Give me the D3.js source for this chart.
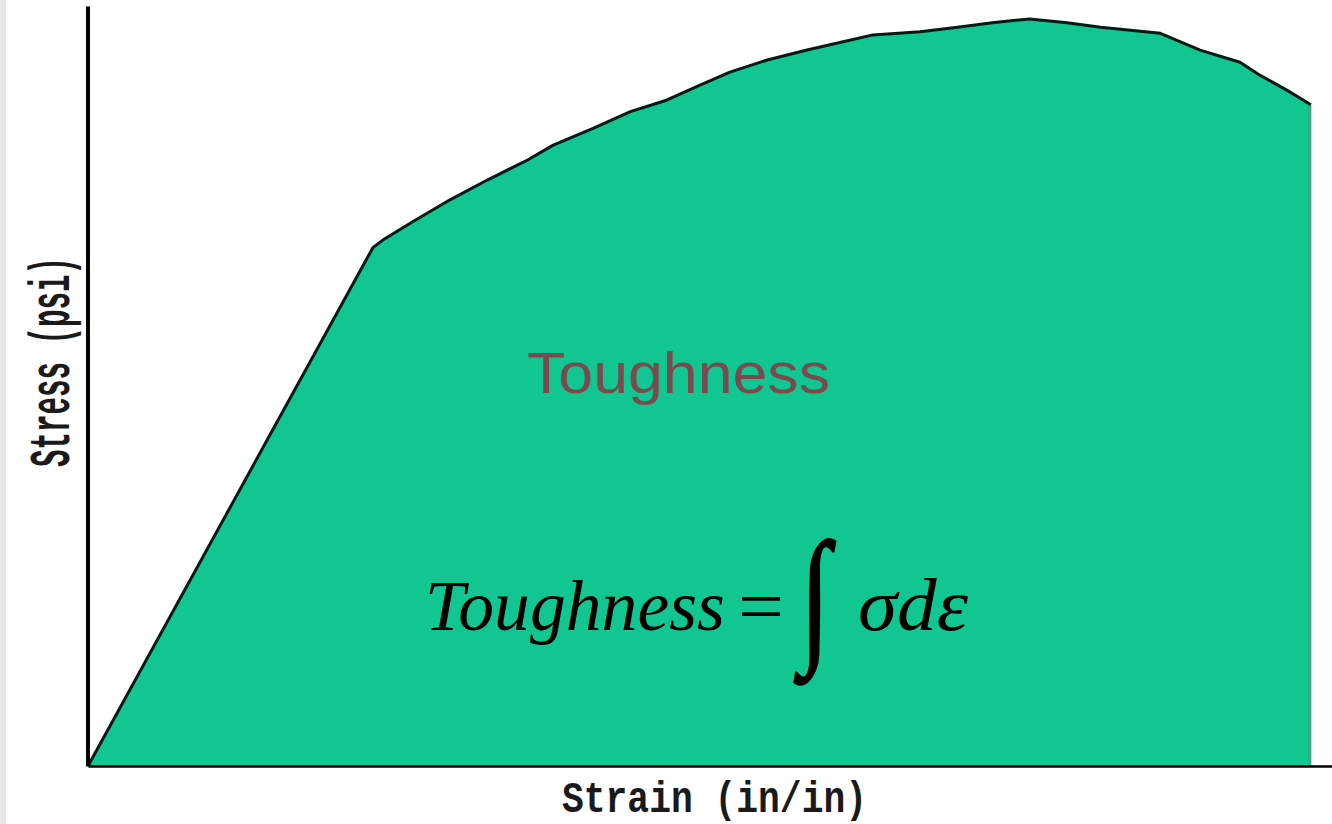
<!DOCTYPE html>
<html>
<head>
<meta charset="utf-8">
<script src="https://cdn.jsdelivr.net/npm/d3@7"></script>
<style>
  html, body { margin: 0; padding: 0; background: #fff; }
  svg { display: block; }
</style>
</head>
<body>
<div id="chart"></div>
<script>
// strain / stress (percent of axis length)
const strain = [0, 22.9, 23.7, 26.1, 29.1, 32.1, 35.3, 37.4, 40.6, 43.6, 46.5, 49.2, 51.6, 54.6,
  57.8, 60.7, 63.1, 66.9, 69.9, 72.7, 75.7, 78.7, 81.4, 86.2, 89.4, 92.6, 94.2, 96.4, 98.3];
const stress = [0, 68.2, 69.2, 71.6, 74.5, 77.1, 79.7, 81.7, 83.9, 86.1, 87.6, 89.6, 91.3, 92.9,
  94.2, 95.3, 96.2, 96.6, 97.2, 97.8, 98.3, 97.8, 97.2, 96.4, 94.2, 92.6, 90.9, 88.9, 87.0];

const xLabel = "Strain (in/in)";
const yLabel = "Stress (psi)";
const areaLabel = "Toughness";

const width = 1332;
const height = 824;

const data = strain.map((s, i) => ({ x: s, y: stress[i] }));

const x = d3.scaleLinear().domain([0, 100]).range([88, 1332]);
const y = d3.scaleLinear().domain([0, 100]).range([766, 6]);

const svg = d3.select("#chart")
  .append("svg")
  .attr("width", width)
  .attr("height", height);

// grey strip down the left edge
svg.append("rect")
  .attr("x", 0).attr("y", 0)
  .attr("width", 6).attr("height", height)
  .attr("fill", "#e6e6e6");

const area = d3.area()
  .x(d => x(d.x))
  .y0(y(0))
  .y1(d => y(d.y));

const line = d3.line()
  .x(d => x(d.x))
  .y(d => y(d.y));

svg.append("path")
  .datum(data)
  .attr("d", area)
  .attr("fill", "#12c692");

// darker seam on the right edge of the fill
const last = data[data.length - 1];
svg.append("line")
  .attr("x1", x(last.x) - 1).attr("x2", x(last.x) - 1)
  .attr("y1", y(last.y)).attr("y2", y(0))
  .attr("stroke", "#3aa887")
  .attr("stroke-width", 3);

svg.append("path")
  .datum(data)
  .attr("d", line)
  .attr("fill", "none")
  .attr("stroke", "#041a12")
  .attr("stroke-width", 3)
  .attr("stroke-linejoin", "round");

// axes without ticks
svg.append("g")
  .attr("transform", `translate(87.5,0)`)
  .call(d3.axisLeft(y).ticks(0).tickSizeOuter(0))
  .select(".domain")
  .attr("stroke", "#000")
  .attr("stroke-width", 4);

svg.append("g")
  .attr("transform", `translate(0,${y(0)})`)
  .call(d3.axisBottom(x).ticks(0).tickSizeOuter(0))
  .select(".domain")
  .attr("stroke", "#000")
  .attr("stroke-width", 2.5);

// axis titles
svg.append("text")
  .attr("x", 562)
  .attr("y", 812)
  .attr("textLength", 305)
  .attr("lengthAdjust", "spacingAndGlyphs")
  .style("font-family", "'Liberation Mono', monospace")
  .style("font-size", "44px")
  .style("font-weight", "bold")
  .attr("fill", "#1a1a1a")
  .text(xLabel);

svg.append("text")
  .attr("transform", "translate(69,467) rotate(-90)")
  .attr("textLength", 210)
  .attr("lengthAdjust", "spacingAndGlyphs")
  .style("font-family", "'Liberation Mono', monospace")
  .style("font-size", "58px")
  .style("font-weight", "bold")
  .attr("fill", "#1a1a1a")
  .text(yLabel);

// label inside the area
svg.append("text")
  .attr("x", 527)
  .attr("y", 393)
  .attr("textLength", 303)
  .attr("lengthAdjust", "spacingAndGlyphs")
  .style("font-family", "'Liberation Sans', Arial, sans-serif")
  .style("font-size", "57px")
  .attr("fill", "#7a4a4e")
  .text(areaLabel);

// formula
const f = svg.append("g")
  .style("font-family", "'Liberation Serif', 'Times New Roman', serif")
  .attr("fill", "#000");

f.append("text")
  .attr("x", 425).attr("y", 630)
  .attr("textLength", 300)
  .attr("lengthAdjust", "spacingAndGlyphs")
  .style("font-size", "71px")
  .style("font-style", "italic")
  .text("Toughness");

f.append("text")
  .attr("x", 738).attr("y", 632)
  .attr("textLength", 46)
  .attr("lengthAdjust", "spacingAndGlyphs")
  .style("font-size", "76px")
  .text("=");

f.append("text")
  .attr("transform", "translate(800,645) scale(1,1.35)")
  .style("font-size", "110px")
  .attr("stroke", "#000")
  .attr("stroke-width", 1.5)
  .text("\u222B");

f.append("text")
  .attr("x", 858).attr("y", 630)
  .attr("textLength", 110)
  .attr("lengthAdjust", "spacingAndGlyphs")
  .style("font-size", "74px")
  .style("font-style", "italic")
  .text("\u03C3d\u03B5");
</script>
</body>
</html>
